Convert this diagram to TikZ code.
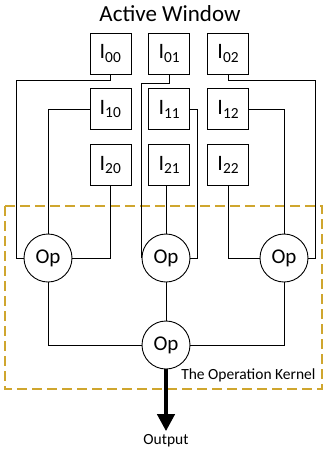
\documentclass[tikz,border=0pt]{standalone}
\usepackage{fontspec}
\setmainfont{Carlito}
\usepackage{tikz}
\usepackage{xcolor}
\usetikzlibrary{arrows.meta, positioning, calc}
\definecolor{kernelgold}{RGB}{207,166,46}

\begin{document}
\begin{tikzpicture}[
  x=1pt, y=-1pt,
  node distance=14pt and 17pt,
  cell/.style={rectangle, draw, line width=0.9pt, minimum size=41pt, inner sep=0pt,
               font=\fontsize{22}{24}\selectfont},
  opnode/.style={circle, draw, line width=0.9pt, minimum size=48pt, inner sep=0pt,
               font=\fontsize{21}{23}\selectfont},
  wire/.style={line width=1pt},
  outarrow/.style={-{Triangle[length=17pt, width=17pt]}, line width=4pt}
]
\useasboundingbox (0,0) rectangle (323,451);

\node[font=\fontsize{23}{25}\selectfont] (title) at (170,14) {Active Window};

% the window
\node[cell] (I00) at (110.5,53.5) {I\textsubscript{00}};
\node[cell, right=of I00] (I01) {I\textsubscript{01}};
\node[cell, right=of I01] (I02) {I\textsubscript{02}};
\node[cell, below=of I00] (I10) {I\textsubscript{10}};
\node[cell, below=of I01] (I11) {I\textsubscript{11}};
\node[cell, below=of I02] (I12) {I\textsubscript{12}};
\node[cell, below=of I10] (I20) {I\textsubscript{20}};
\node[cell, below=of I11] (I21) {I\textsubscript{21}};
\node[cell, below=of I12] (I22) {I\textsubscript{22}};

% the kernel
\node[opnode] (opl) at (48,258) {Op};
\node[opnode] (opm) at (166,258) {Op};
\node[opnode] (opr) at (284,258) {Op};
\node[opnode] (opb) at (166,345) {Op};

\draw[kernelgold, line width=1.3pt, dash pattern=on 10pt off 5pt]
  (5,206) rectangle (322,389);
\node[anchor=east, font=\fontsize{15.5}{17}\selectfont] (klabel) at (319,375) {The Operation Kernel};

\node[font=\fontsize{15.5}{17}\selectfont] (out) at (166,441) {Output};

\draw[wire] (I00.south) -- ++(0,6) -| ([xshift=-7pt]opl.west) -- (opl.west);
\draw[wire] (I10.west) -| (opl.north);
\draw[wire] (I20.south) |- (opl.east);
\draw[wire] (I01.south) -- ++(0,9) -| (opm.west);
\draw[wire] (I11.east) -| ([xshift=7pt]opm.east) -- (opm.east);
\draw[wire] (I21.south -| opm.north) -- (opm.north);
\draw[wire] (I02.south) -- ++(0,6) -| ([xshift=7pt]opr.east) -- (opr.east);
\draw[wire] (I12.east) -| (opr.north);
\draw[wire] (I22.south) |- (opr.west);

\draw[wire] (opl.south) |- (opb.west);
\draw[wire] (opr.south) |- (opb.east);
\draw[wire] (opm.south) -- (opb.north);

\draw[outarrow] (opb.south) -- (out.north);
\end{tikzpicture}
\end{document}
